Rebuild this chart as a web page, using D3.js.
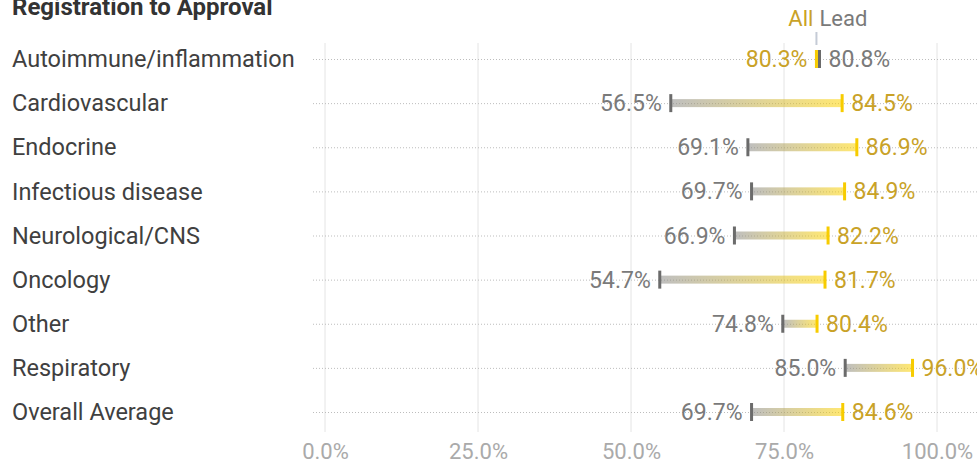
<!DOCTYPE html>
<html>
<head>
<meta charset="utf-8">
<script src="https://cdn.jsdelivr.net/npm/d3@7"></script>
<style>
  body { margin: 0; background: #fff; }
  svg { display: block; font-family: Roboto, sans-serif; }
</style>
</head>
<body>
<script>
const categories = [
    'Autoimmune/inflammation', 'Cardiovascular', 'Endocrine', 'Infectious disease',
    'Neurological/CNS', 'Oncology', 'Other', 'Respiratory', 'Overall Average'
];
const allValues  = [80.3, 84.5, 86.9, 84.9, 82.2, 81.7, 80.4, 96.0, 84.6];
const leadValues = [80.8, 56.5, 69.1, 69.7, 66.9, 54.7, 74.8, 85.0, 69.7];
const tickValues = [0, 25, 50, 75, 100];

const width = 977, height = 466;
const GREY = '#6b6b6b', GOLD = '#f7cc00';
const GREY_TEXT = '#7a7a7a', GOLD_TEXT = '#c9a227';

const rows = categories.map((c, i) => ({ c, all: allValues[i], lead: leadValues[i] }));

const x = d3.scaleLinear().domain([0, 100]).range([325, 937]);
const y = d3.scalePoint().domain(categories).range([59, 412]);

const svg = d3.select('body').append('svg')
    .attr('width', width)
    .attr('height', height);

// title, top partly cut off like the original
svg.append('text')
    .attr('x', 12).attr('y', 15)
    .style('font-size', '24px').style('font-weight', 'bold')
    .attr('fill', '#333')
    .text('Registration to Approval');

// vertical grid
svg.append('g').selectAll('line')
    .data(tickValues)
    .join('line')
    .attr('x1', d => x(d)).attr('x2', d => x(d))
    .attr('y1', 43).attr('y2', 432)
    .attr('stroke', '#e4e4e4').attr('stroke-width', 1);

// axis labels
const axis = d3.axisBottom(x).tickValues(tickValues).tickFormat(d => d.toFixed(1) + '%').tickSize(0);
const axisG = svg.append('g').attr('transform', 'translate(0,440)').call(axis);
axisG.select('.domain').remove();
axisG.selectAll('text')
    .style('font-family', 'Roboto, sans-serif')
    .style('font-size', '22px')
    .attr('fill', '#aaaaaa');

// row dotted lines
svg.append('g').selectAll('line')
    .data(categories)
    .join('line')
    .attr('x1', 313).attr('x2', width)
    .attr('y1', d => y(d) + 0.5).attr('y2', d => y(d) + 0.5)
    .attr('stroke', '#bdbdbd').attr('stroke-width', 1)
    .attr('stroke-dasharray', '1,2');

// category labels
svg.append('g').selectAll('text')
    .data(categories)
    .join('text')
    .attr('x', 12).attr('y', d => y(d))
    .attr('dy', '0.35em')
    .style('font-size', '23.5px')
    .attr('fill', '#404040')
    .text(d => d);

// gradients per row (lead grey -> all gold)
const defs = svg.append('defs');
rows.forEach((r, i) => {
    const g = defs.append('linearGradient')
        .attr('id', 'grad' + i)
        .attr('gradientUnits', 'userSpaceOnUse')
        .attr('x1', x(r.lead)).attr('x2', x(r.all))
        .attr('y1', 0).attr('y2', 0);
    g.append('stop').attr('offset', '0%').attr('stop-color', '#8a8a8a').attr('stop-opacity', 0.55);
    g.append('stop').attr('offset', '100%').attr('stop-color', '#ffd400').attr('stop-opacity', 0.55);
});

const rowG = svg.append('g').selectAll('g')
    .data(rows)
    .join('g')
    .attr('transform', d => `translate(0,${y(d.c)})`);

rowG.append('rect')
    .attr('x', d => Math.min(x(d.lead), x(d.all)))
    .attr('width', d => Math.abs(x(d.all) - x(d.lead)))
    .attr('y', -4).attr('height', 8)
    .attr('fill', (d, i) => `url(#grad${i})`);

rowG.append('rect')
    .attr('x', d => x(d.lead) - 1.5).attr('width', 3)
    .attr('y', -9).attr('height', 18)
    .attr('fill', GREY);

rowG.append('rect')
    .attr('x', d => x(d.all) - 1.5).attr('width', 3)
    .attr('y', -9).attr('height', 18)
    .attr('fill', GOLD);

// value labels: lower value on the left, higher on the right
const labelData = rows.flatMap(r => {
    const leadLeft = r.lead <= r.all;
    return [
        { c: r.c, v: r.lead, left: leadLeft, color: GREY_TEXT },
        { c: r.c, v: r.all, left: !leadLeft, color: GOLD_TEXT }
    ];
});

svg.append('g').selectAll('text')
    .data(labelData)
    .join('text')
    .attr('x', d => d.left ? x(d.v) - 9 : x(d.v) + 9)
    .attr('y', d => y(d.c))
    .attr('dy', '0.35em')
    .attr('text-anchor', d => d.left ? 'end' : 'start')
    .style('font-size', '23px')
    .attr('fill', d => d.color)
    .text(d => d.v.toFixed(1) + '%');

// legend above the first row
const legendX = x(allValues[0]);
svg.append('line')
    .attr('x1', legendX).attr('x2', legendX)
    .attr('y1', 32).attr('y2', 45)
    .attr('stroke', '#c5cbd6').attr('stroke-width', 2);
svg.append('text')
    .attr('x', legendX - 3).attr('y', 18).attr('dy', '0.35em')
    .attr('text-anchor', 'end')
    .style('font-size', '22px')
    .attr('fill', GOLD_TEXT)
    .text('All');
svg.append('text')
    .attr('x', legendX + 3).attr('y', 18).attr('dy', '0.35em')
    .style('font-size', '22px')
    .attr('fill', GREY_TEXT)
    .text('Lead');
</script>
</body>
</html>
